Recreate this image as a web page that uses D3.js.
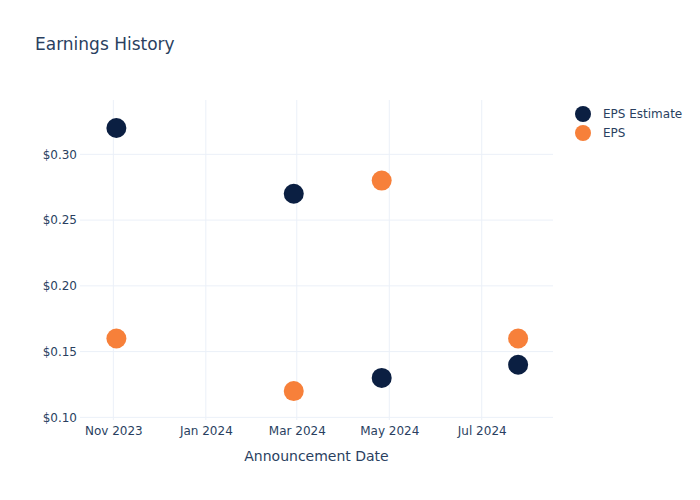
<!DOCTYPE html>
<html>
<head>
<meta charset="utf-8">
<script src="https://cdn.jsdelivr.net/npm/d3@7"></script>
<style>
  html, body { margin: 0; padding: 0; background: #fff; }
  svg { display: block; font-family: "DejaVu Sans", sans-serif; }
</style>
</head>
<body>
<svg id="chart" width="700" height="500"></svg>
<script>
const dates = ["2023-11-03", "2024-02-28", "2024-04-26", "2024-07-25"];
const epsEstimate = [0.32, 0.27, 0.13, 0.14];
const eps = [0.16, 0.12, 0.28, 0.16];
const yTicks = [0.10, 0.15, 0.20, 0.25, 0.30];
const seriesNames = ["EPS Estimate", "EPS"];
const seriesColors = ["#0b1f42", "#f7803a"];
const xRange = ["2023-10-10", "2024-08-17"];
const yRange = [0.098, 0.3413];

const parse = d3.utcParse("%Y-%m-%d");
const W = 700, H = 500;
const m = { l: 80, r: 147, t: 100, b: 80 };
const svg = d3.select("#chart");
const textColor = "#2a3f5f";
const gridColor = "#ebf0f8";

const x = d3.scaleUtc().domain(xRange.map(parse)).range([m.l, W - m.r]);
const y = d3.scaleLinear().domain(yRange).range([H - m.b, m.t]);

// gridlines
const xTicks = x.ticks(d3.utcMonth.every(2));
svg.append("g").selectAll("line").data(xTicks).join("line")
  .attr("x1", d => x(d)).attr("x2", d => x(d))
  .attr("y1", m.t).attr("y2", H - m.b)
  .attr("stroke", gridColor).attr("stroke-width", 1);
svg.append("g").selectAll("line").data(yTicks).join("line")
  .attr("x1", m.l).attr("x2", W - m.r)
  .attr("y1", d => y(d)).attr("y2", d => y(d))
  .attr("stroke", gridColor).attr("stroke-width", 1);

// axes
const xAxis = d3.axisBottom(x).tickValues(xTicks).tickFormat(d3.utcFormat("%b %Y")).tickSize(0).tickPadding(6);
const gx = svg.append("g").attr("transform", `translate(0,${H - m.b})`).call(xAxis);
gx.select(".domain").remove();
gx.selectAll("text").attr("fill", textColor).style("font-size", "12px").style("font-family", "DejaVu Sans");

const yAxis = d3.axisLeft(y).tickValues(yTicks).tickFormat(d => "$" + d3.format(".2f")(d)).tickSize(0).tickPadding(3);
const gy = svg.append("g").attr("transform", `translate(${m.l},0)`).call(yAxis);
gy.select(".domain").remove();
gy.selectAll("text").attr("fill", textColor).style("font-size", "12px").style("font-family", "DejaVu Sans");

// points
const seriesData = [epsEstimate, eps];
seriesData.forEach((vals, i) => {
  svg.append("g").selectAll("circle").data(vals.map((v, j) => ({ d: parse(dates[j]), v })))
    .join("circle")
    .attr("cx", p => x(p.d)).attr("cy", p => y(p.v)).attr("r", 10)
    .attr("fill", seriesColors[i]);
});

// title
svg.append("text").attr("x", 35).attr("y", 50).attr("fill", textColor)
  .style("font-size", "17px").text("Earnings History");

// axis title
svg.append("text").attr("x", (m.l + W - m.r) / 2).attr("y", 461).attr("text-anchor", "middle")
  .attr("fill", textColor).style("font-size", "14px").text("Announcement Date");

// legend
const lg = svg.append("g");
seriesNames.forEach((n, i) => {
  const yy = 114 + i * 19;
  lg.append("circle").attr("cx", 583).attr("cy", yy).attr("r", 8).attr("fill", seriesColors[i]);
  lg.append("text").attr("x", 603).attr("y", yy + 4).attr("fill", textColor)
    .style("font-size", "12px").text(n);
});
</script>
</body>
</html>
